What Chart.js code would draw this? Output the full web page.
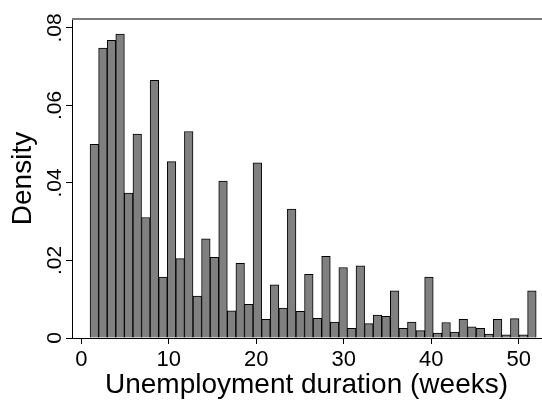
<!DOCTYPE html>
<html>
<head>
<meta charset="utf-8">
<script src="https://cdn.jsdelivr.net/npm/chart.js@4.4.1/dist/chart.umd.min.js"></script>
<style>
  html, body { margin: 0; padding: 0; background: #fff; }
  canvas { display: block; }
</style>
</head>
<body>
<canvas id="chart" width="542" height="401"></canvas>
<script>
// 52 equal bins between 1 and 52 weeks
const binLow = 1;
const binHigh = 52;
const density = [
  0.0500, 0.0748, 0.0768, 0.0784, 0.0374, 0.0526, 0.0311, 0.0665, 0.0157, 0.0455,
  0.0205, 0.0533, 0.0108, 0.0256, 0.0208, 0.0405, 0.0070, 0.0193, 0.0087, 0.0452,
  0.0048, 0.0137, 0.0077, 0.0333, 0.0069, 0.0164, 0.0051, 0.0211, 0.0041, 0.0182,
  0.0025, 0.0186, 0.0037, 0.0059, 0.0056, 0.0122, 0.0025, 0.0041, 0.0019, 0.0157,
  0.0013, 0.0040, 0.0015, 0.0048, 0.0029, 0.0025, 0.0010, 0.0048, 0.0008, 0.0050,
  0.0008, 0.0122
];
const xTicks = [0, 10, 20, 30, 40, 50];
const yTicks = [0, 0.02, 0.04, 0.06, 0.08];
const yTickLabels = ["0", ".02", ".04", ".06", ".08"];
const xTitle = "Unemployment duration (weeks)";
const yTitle = "Density";

const FONT = '"Liberation Sans", Arial, sans-serif';
const binWidth = (binHigh - binLow) / density.length;
const points = density.map((d, i) => ({ x: binLow + (i + 0.5) * binWidth, y: d }));

// vertical y tick labels, Stata style
const yLabels = {
  id: "yLabels",
  afterDraw(chart) {
    const ctx = chart.ctx;
    const sy = chart.scales.y;
    ctx.save();
    ctx.fillStyle = "#000";
    ctx.font = "21px " + FONT;
    ctx.textAlign = "center";
    ctx.textBaseline = "alphabetic";
    yTicks.forEach((v, i) => {
      ctx.save();
      ctx.translate(61, sy.getPixelForValue(v));
      ctx.rotate(-Math.PI / 2);
      ctx.fillText(yTickLabels[i], 0, 0);
      ctx.restore();
    });
    ctx.restore();
  }
};

// grey line along the top of the plot
const topLine = {
  id: "topLine",
  afterDraw(chart) {
    const ctx = chart.ctx;
    const a = chart.chartArea;
    ctx.save();
    ctx.strokeStyle = "#7a7a7a";
    ctx.lineWidth = 2;
    ctx.beginPath();
    ctx.moveTo(a.left, a.top);
    ctx.lineTo(chart.width, a.top);
    ctx.stroke();
    ctx.restore();
  }
};

new Chart(document.getElementById("chart"), {
  type: "bar",
  data: {
    datasets: [{
      data: points,
      backgroundColor: "#808080",
      borderColor: "#000",
      borderWidth: 1,
      barPercentage: 1,
      categoryPercentage: 1
    }]
  },
  options: {
    responsive: false,
    animation: false,
    events: [],
    layout: { padding: { top: 19, right: 1, left: 0, bottom: 0 } },
    plugins: { legend: { display: false }, tooltip: { enabled: false } },
    scales: {
      x: {
        type: "linear",
        min: -1.063,
        max: 52.55,
        offset: false,
        afterBuildTicks: s => { s.ticks = xTicks.map(v => ({ value: v })); },
        afterFit: s => { s.height = 63; },
        ticks: { color: "#000", font: { family: FONT, size: 22 }, padding: 3, maxRotation: 0 },
        grid: { offset: false, drawOnChartArea: false, drawTicks: true, tickLength: 6, color: "#000" },
        border: { display: true, color: "#000", width: 1 },
        title: { display: true, text: xTitle, color: "#000", font: { family: FONT, size: 28, lineHeight: 1 }, padding: { top: 0, bottom: 1.4 } }
      },
      y: {
        min: 0,
        max: 0.08232,
        afterBuildTicks: s => { s.ticks = yTicks.map(v => ({ value: v })); },
        afterFit: s => { s.width = 72; },
        ticks: { display: false },
        grid: { drawOnChartArea: false, drawTicks: true, tickLength: 6, color: "#000" },
        border: { display: true, color: "#000", width: 1 },
        title: { display: true, text: yTitle, color: "#000", font: { family: FONT, size: 28, lineHeight: 1 }, padding: { top: 9.6, bottom: 0 } }
      }
    }
  },
  plugins: [yLabels, topLine]
});
</script>
</body>
</html>
